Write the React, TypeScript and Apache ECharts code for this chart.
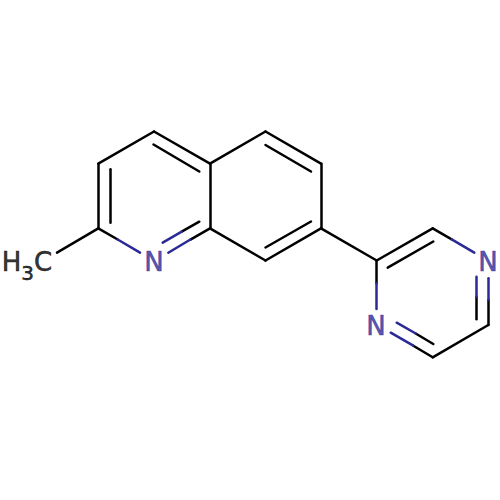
import React, { useEffect, useRef } from "react";
import * as echarts from "echarts";

type Seg = [number, number, number, number];

const blackBonds: Seg[] = [
  [57, 252.7, 98.3, 228.3],
  [98.3, 228.3, 98.3, 163.7],
  [110, 222.7, 110, 169.3],
  [98.3, 163.7, 154, 131.5],
  [154, 131.5, 210, 163.7],
  [153.5, 144.5, 199.3, 171.5],
  [210, 163.7, 210, 228.3],
  [210, 228.3, 190, 239.8],
  [199.3, 221.7, 181.7, 231.7],
  [98.3, 228.3, 117.7, 239.5],
  [210, 163.7, 265.5, 131.5],
  [210, 228.3, 265.5, 260.5],
  [265.5, 131.5, 321, 163.7],
  [265.5, 145, 311, 171.5],
  [321, 163.7, 321, 228.3],
  [321, 228.3, 265.5, 260.5],
  [311, 221.5, 265.5, 247.5],
  [321, 228.3, 376.7, 260.5],
  [376.7, 260.5, 432.7, 228.3],
  [387.7, 267.7, 433.3, 241.5],
  [432.7, 228.3, 451.7, 239.3],
  [488.3, 300, 488.3, 325],
  [476.7, 296.7, 476.7, 319.3],
  [488.3, 325, 432.7, 357.3],
  [432.7, 357.3, 413.3, 345.7],
  [433.3, 344, 415.7, 333.5],
  [376.7, 260.5, 376.7, 283.3],
];

const blueBonds: Seg[] = [
  [190, 239.8, 168.3, 252.7],
  [181.7, 231.7, 162.7, 242.7],
  [117.7, 239.5, 140, 252.7],
  [451.7, 239.3, 474.3, 252.7],
  [488.3, 278.3, 488.3, 300],
  [476.7, 276.7, 476.7, 296.7],
  [413.3, 345.7, 390.7, 332.7],
  [415.7, 333.5, 396.7, 322.7],
  [376.7, 283.3, 376.7, 309],
];

const nitrogenLabels: [number, number, string][] = [
  [154, 262, "N"],
  [488, 262, "N"],
  [376, 326, "N"],
];

const methylLabels: [number, number, string, number][] = [
  [11.5, 262, "H", 26],
  [27.5, 272.5, "3", 20],
  [43, 262, "C", 26],
];

const BLACK = "#000000";
const BLUE = "#2a2a96";
const FONT = "DejaVu Sans";

const segSeries = (segs: Seg[], color: string) => ({
  type: "lines",
  coordinateSystem: "cartesian2d",
  silent: true,
  symbol: "none",
  z: 2,
  lineStyle: { color, width: 2.5, opacity: 1, cap: "round", join: "round" },
  data: segs.map(([a, b, c, d]) => ({ coords: [[a, b], [c, d]] })),
});

const labelSeries = (points: any[], color: string) => ({
  type: "scatter",
  silent: true,
  symbolSize: 1,
  z: 3,
  itemStyle: { color: "rgba(0,0,0,0)" },
  data: points.map((p) => ({
    value: [p[0], p[1]],
    label: {
      show: true,
      position: "inside",
      formatter: p[2],
      color,
      fontFamily: FONT,
      fontSize: p[3] ?? 26,
      textBorderWidth: 0.6,
      textBorderColor: color,
      align: "center",
      verticalAlign: "middle",
    },
  })),
});

export default function App() {
  const ref = useRef<HTMLDivElement>(null);
  useEffect(() => {
    document.body.style.margin = "0";
    document.body.style.background = "#ffffff";
    const chart = echarts.init(ref.current!, undefined, { renderer: "svg" });
    chart.setOption({
      animation: false,
      backgroundColor: "#ffffff",
      grid: { left: 0, right: 0, top: 0, bottom: 0 },
      xAxis: { type: "value", min: 0, max: 500, show: false },
      yAxis: { type: "value", min: 0, max: 500, inverse: true, show: false },
      series: [
        segSeries(blackBonds, BLACK),
        segSeries(blueBonds, BLUE),
        labelSeries(nitrogenLabels, BLUE),
        labelSeries(methylLabels, BLACK),
      ],
    });
    return () => chart.dispose();
  }, []);
  return <div ref={ref} style={{ width: 500, height: 500 }} />;
}
